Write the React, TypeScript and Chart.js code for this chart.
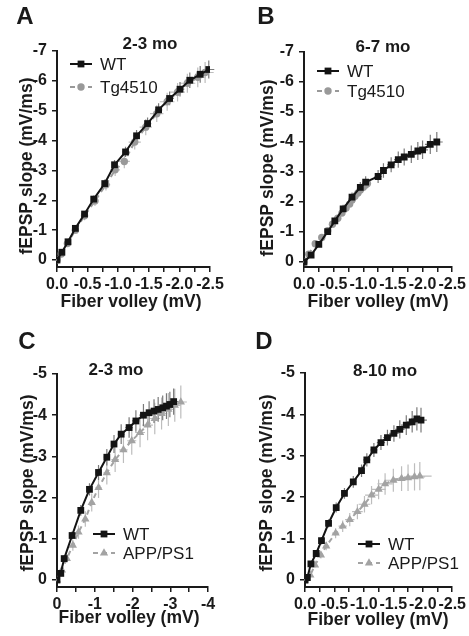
import React, { useEffect, useRef } from "react";
import { Chart, registerables } from "chart.js";
Chart.register(...registerables);

const FONT = "'Liberation Sans', Arial, Helvetica, sans-serif";

// ---------- Panel A (2-3 mo, WT vs Tg4510) ----------
const aWtX = [0, -0.08, -0.18, -0.30, -0.45, -0.60, -0.78, -0.94, -1.12, -1.30, -1.48, -1.66, -1.84, -2.01, -2.17, -2.34, -2.48];
const aWtY = [0, -0.26, -0.61, -1.06, -1.54, -2.04, -2.56, -3.19, -3.62, -4.16, -4.57, -5.03, -5.41, -5.72, -6.02, -6.22, -6.38];
const aWtEx = [0.01, 0.01, 0.02, 0.02, 0.03, 0.03, 0.04, 0.04, 0.05, 0.05, 0.06, 0.06, 0.07, 0.07, 0.08, 0.08, 0.09];
const aWtEy = [0.02, 0.04, 0.06, 0.08, 0.1, 0.12, 0.14, 0.16, 0.17, 0.19, 0.2, 0.22, 0.23, 0.24, 0.26, 0.28, 0.3];
const aTgX = [0, -0.07, -0.17, -0.30, -0.45, -0.62, -0.80, -0.95, -1.10, -1.27, -1.45, -1.63, -1.80, -1.97, -2.13, -2.30, -2.42];
const aTgY = [0, -0.20, -0.55, -1.00, -1.48, -1.98, -2.52, -3.02, -3.30, -3.95, -4.45, -4.90, -5.30, -5.62, -5.92, -6.12, -6.28];
const aTgEx = [0.01, 0.02, 0.03, 0.04, 0.05, 0.06, 0.07, 0.08, 0.09, 0.1, 0.1, 0.11, 0.12, 0.12, 0.13, 0.13, 0.14];
const aTgEy = [0.03, 0.06, 0.09, 0.12, 0.15, 0.17, 0.19, 0.21, 0.23, 0.25, 0.27, 0.28, 0.3, 0.31, 0.32, 0.33, 0.35];

// ---------- Panel B (6-7 mo, WT vs Tg4510) ----------
const bWtX = [0, -0.12, -0.25, -0.40, -0.52, -0.66, -0.81, -0.95, -1.04, -1.25, -1.34, -1.47, -1.59, -1.69, -1.81, -1.92, -2.0, -2.13, -2.24];
const bWtY = [0, -0.23, -0.59, -1.01, -1.37, -1.77, -2.16, -2.49, -2.66, -2.85, -3.05, -3.24, -3.41, -3.5, -3.59, -3.7, -3.74, -3.92, -4.0];
const bWtEx = [0.01, 0.02, 0.02, 0.03, 0.03, 0.04, 0.04, 0.05, 0.05, 0.06, 0.06, 0.07, 0.07, 0.08, 0.08, 0.08, 0.09, 0.09, 0.1];
const bWtEy = [0.02, 0.05, 0.07, 0.1, 0.12, 0.14, 0.16, 0.18, 0.2, 0.22, 0.24, 0.25, 0.27, 0.28, 0.29, 0.3, 0.31, 0.32, 0.33];
const bTgX = [0, -0.08, -0.19, -0.30, -0.40, -0.48, -0.57, -0.64, -0.71, -0.77, -0.81, -0.86, -0.91, -0.95, -1.0, -1.04, -1.07];
const bTgY = [0, -0.26, -0.61, -0.82, -1.04, -1.26, -1.46, -1.63, -1.8, -1.93, -2.07, -2.19, -2.3, -2.4, -2.49, -2.57, -2.62];
const bTgEx = [0.01, 0.01, 0.02, 0.02, 0.02, 0.03, 0.03, 0.03, 0.03, 0.04, 0.04, 0.04, 0.04, 0.05, 0.05, 0.05, 0.05];
const bTgEy = [0.02, 0.03, 0.04, 0.05, 0.06, 0.07, 0.08, 0.08, 0.09, 0.09, 0.1, 0.1, 0.11, 0.11, 0.12, 0.12, 0.12];

// ---------- Panel C (2-3 mo, WT vs APP/PS1) ----------
const cWtX = [0, -0.10, -0.19, -0.40, -0.63, -0.86, -1.10, -1.32, -1.51, -1.70, -1.91, -2.09, -2.29, -2.44, -2.57, -2.68, -2.80, -2.90, -2.99, -3.09];
const cWtY = [0, -0.16, -0.52, -1.08, -1.69, -2.20, -2.61, -2.98, -3.30, -3.54, -3.70, -3.86, -4.0, -4.06, -4.10, -4.14, -4.18, -4.22, -4.26, -4.33];
const cWtEx = [0.01, 0.02, 0.03, 0.04, 0.05, 0.06, 0.07, 0.08, 0.08, 0.09, 0.1, 0.1, 0.11, 0.11, 0.12, 0.12, 0.12, 0.13, 0.13, 0.13];
const cWtEy = [0.02, 0.05, 0.08, 0.1, 0.13, 0.15, 0.18, 0.2, 0.22, 0.24, 0.25, 0.26, 0.27, 0.28, 0.29, 0.3, 0.3, 0.31, 0.31, 0.32];
const cApX = [0, -0.13, -0.26, -0.42, -0.57, -0.75, -0.92, -1.10, -1.32, -1.54, -1.76, -1.98, -2.20, -2.40, -2.59, -2.77, -2.95, -3.12, -3.28];
const cApY = [0, -0.24, -0.52, -0.84, -1.16, -1.48, -1.88, -2.24, -2.60, -2.92, -3.16, -3.38, -3.58, -3.76, -3.92, -4.04, -4.14, -4.24, -4.32];
const cApEx = [0.01, 0.02, 0.03, 0.04, 0.05, 0.06, 0.07, 0.08, 0.09, 0.1, 0.11, 0.12, 0.13, 0.14, 0.14, 0.15, 0.15, 0.16, 0.16];
const cApEy = [0.03, 0.06, 0.1, 0.13, 0.16, 0.19, 0.22, 0.25, 0.28, 0.3, 0.32, 0.34, 0.36, 0.37, 0.38, 0.39, 0.4, 0.4, 0.4];

// ---------- Panel D (8-10 mo, WT vs APP/PS1) ----------
const dWtX = [0, -0.04, -0.10, -0.19, -0.28, -0.40, -0.53, -0.67, -0.82, -0.96, -1.05, -1.17, -1.29, -1.40, -1.51, -1.61, -1.72, -1.82, -1.90, -1.97];
const dWtY = [0, -0.06, -0.39, -0.64, -0.95, -1.37, -1.75, -2.09, -2.37, -2.64, -2.90, -3.14, -3.32, -3.44, -3.54, -3.64, -3.74, -3.82, -3.89, -3.86];
const dWtEx = [0.01, 0.01, 0.02, 0.02, 0.03, 0.03, 0.04, 0.04, 0.05, 0.05, 0.06, 0.06, 0.07, 0.07, 0.08, 0.08, 0.09, 0.09, 0.1, 0.1];
const dWtEy = [0.02, 0.03, 0.05, 0.07, 0.09, 0.1, 0.12, 0.13, 0.14, 0.15, 0.16, 0.17, 0.18, 0.19, 0.2, 0.22, 0.24, 0.26, 0.28, 0.3];
const dApX = [0, -0.09, -0.17, -0.27, -0.36, -0.52, -0.64, -0.76, -0.89, -1.01, -1.13, -1.25, -1.36, -1.50, -1.64, -1.75, -1.86, -1.95];
const dApY = [0, -0.12, -0.36, -0.60, -0.82, -1.13, -1.30, -1.46, -1.65, -1.83, -2.05, -2.19, -2.32, -2.41, -2.45, -2.47, -2.49, -2.51];
const dApEx = [0.01, 0.02, 0.03, 0.04, 0.05, 0.06, 0.07, 0.08, 0.09, 0.1, 0.11, 0.12, 0.13, 0.14, 0.15, 0.16, 0.18, 0.2];
const dApEy = [0.02, 0.04, 0.06, 0.08, 0.1, 0.12, 0.14, 0.16, 0.18, 0.2, 0.22, 0.24, 0.26, 0.28, 0.3, 0.32, 0.33, 0.34];

const yAxisTitle = "fEPSP slope (mV/ms)";
const xAxisTitle = "Fiber volley (mV)";

type Kind = "wt" | "tg" | "app";
interface Series { label: string; kind: Kind; x: number[]; y: number[]; ex: number[]; ey: number[] }
interface Panel {
  letter: string; title: string;
  box: [number, number, number, number];
  area: { l: number; r: number; t: number; b: number; y0: number };
  xMin: number; xStep: number; xLabelEvery: number; xDecimals: number;
  yMin: number;
  series: Series[];
  legend: [number, number, number];
  titleAt: [number, number]; letterAt: [number, number];
  yTitleAt: [number, number]; xTitleAt: [number, number];
}

const STYLE: Record<Kind, { color: string; marker: string; radius: number; dash: number[]; err: string }> = {
  wt: { color: "#141414", marker: "rect", radius: 4.8, dash: [], err: "#7a7a7a" },
  tg: { color: "#999999", marker: "circle", radius: 3.7, dash: [5, 4], err: "#bdbdbd" },
  app: { color: "#a3a3a3", marker: "triangle", radius: 4.8, dash: [5, 4], err: "#bdbdbd" },
};

const panels: Panel[] = [
  {
    letter: "A", title: "2-3 mo", box: [0, 0, 234, 318],
    area: { l: 57, r: 210, t: 51, b: 267, y0: 260 },
    xMin: -2.5, xStep: 0.25, xLabelEvery: 2, xDecimals: 1, yMin: -7,
    series: [
      { label: "WT", kind: "wt", x: aWtX, y: aWtY, ex: aWtEx, ey: aWtEy },
      { label: "Tg4510", kind: "tg", x: aTgX, y: aTgY, ex: aTgEx, ey: aTgEy },
    ],
    legend: [70, 64, 23], titleAt: [150, 44], letterAt: [25, 17], yTitleAt: [27, 166], xTitleAt: [131, 302],
  },
  {
    letter: "B", title: "6-7 mo", box: [234, 0, 235, 318],
    area: { l: 70, r: 223, t: 52, b: 267, y0: 262 },
    xMin: -2.5, xStep: 0.25, xLabelEvery: 2, xDecimals: 1, yMin: -7,
    series: [
      { label: "WT", kind: "wt", x: bWtX, y: bWtY, ex: bWtEx, ey: bWtEy },
      { label: "Tg4510", kind: "tg", x: bTgX, y: bTgY, ex: bTgEx, ey: bTgEy },
    ],
    legend: [83, 71, 20], titleAt: [149, 47], letterAt: [32, 17], yTitleAt: [34, 168], xTitleAt: [144, 302],
  },
  {
    letter: "C", title: "2-3 mo", box: [0, 318, 234, 318],
    area: { l: 57, r: 208, t: 56, b: 269, y0: 262 },
    xMin: -4, xStep: 0.5, xLabelEvery: 2, xDecimals: 0, yMin: -5,
    series: [
      { label: "WT", kind: "wt", x: cWtX, y: cWtY, ex: cWtEx, ey: cWtEy },
      { label: "APP/PS1", kind: "app", x: cApX, y: cApY, ex: cApEx, ey: cApEy },
    ],
    legend: [93, 216, 19], titleAt: [116, 52], letterAt: [27, 24], yTitleAt: [28, 165], xTitleAt: [129, 300],
  },
  {
    letter: "D", title: "8-10 mo", box: [234, 318, 235, 318],
    area: { l: 71, r: 223, t: 55, b: 269, y0: 262 },
    xMin: -2.5, xStep: 0.25, xLabelEvery: 2, xDecimals: 1, yMin: -5,
    series: [
      { label: "WT", kind: "wt", x: dWtX, y: dWtY, ex: dWtEx, ey: dWtEy },
      { label: "APP/PS1", kind: "app", x: dApX, y: dApY, ex: dApEx, ey: dApEy },
    ],
    legend: [124, 226, 19], titleAt: [151, 53], letterAt: [30, 24], yTitleAt: [33, 165], xTitleAt: [144, 302],
  },
];

function drawMarker(ctx: CanvasRenderingContext2D, kind: Kind, x: number, y: number) {
  const s = STYLE[kind];
  ctx.save();
  ctx.fillStyle = s.color;
  ctx.beginPath();
  if (s.marker === "rect") {
    const h = s.radius * Math.SQRT1_2;
    ctx.rect(x - h, y - h, 2 * h, 2 * h);
  } else if (s.marker === "circle") {
    ctx.arc(x, y, s.radius, 0, Math.PI * 2);
  } else {
    const r = s.radius;
    ctx.moveTo(x, y - r);
    ctx.lineTo(x + r * 0.866, y + r * 0.5);
    ctx.lineTo(x - r * 0.866, y + r * 0.5);
    ctx.closePath();
  }
  ctx.fill();
  ctx.restore();
}

function PanelChart({ p }: { p: Panel }) {
  const ref = useRef<HTMLCanvasElement | null>(null);
  useEffect(() => {
    const canvas = ref.current;
    if (!canvas) return;
    const [, , W, H] = p.box;
    const { l, r, t, b, y0 } = p.area;
    const yMax = ((b - y0) * -p.yMin) / (y0 - t);
    const yTicks: number[] = [];
    for (let v = p.yMin; v <= 0; v++) yTicks.push(v);
    const xTicks: number[] = [];
    const nx = Math.round(-p.xMin / p.xStep);
    for (let i = 0; i <= nx; i++) xTicks.push(-i * p.xStep);

    const decor = {
      id: "decor",
      beforeDatasetsDraw(chart: any) {
        const ctx = chart.ctx as CanvasRenderingContext2D;
        const xs = chart.scales.x, ys = chart.scales.y;
        ctx.save();
        [...p.series].reverse().forEach((s) => {
          ctx.strokeStyle = STYLE[s.kind].err;
          ctx.lineWidth = 1.2;
          s.x.forEach((xv, i) => {
            const px = xs.getPixelForValue(xv), py = ys.getPixelForValue(s.y[i]);
            const x1 = xs.getPixelForValue(xv - s.ex[i]), x2 = xs.getPixelForValue(xv + s.ex[i]);
            const y1 = ys.getPixelForValue(s.y[i] - s.ey[i]), y2 = ys.getPixelForValue(s.y[i] + s.ey[i]);
            ctx.beginPath();
            ctx.moveTo(x1, py); ctx.lineTo(x2, py);
            ctx.moveTo(px, y1); ctx.lineTo(px, y2);
            ctx.stroke();
          });
        });
        ctx.restore();
      },
      afterDraw(chart: any) {
        const ctx = chart.ctx as CanvasRenderingContext2D;
        ctx.save();
        ctx.fillStyle = "#1a1a1a";
        ctx.textBaseline = "middle";
        ctx.textAlign = "center";
        ctx.font = `bold 24px ${FONT}`;
        ctx.fillText(p.letter, p.letterAt[0], p.letterAt[1]);
        ctx.font = `bold 17px ${FONT}`;
        ctx.fillText(p.title, p.titleAt[0], p.titleAt[1]);
        ctx.font = `bold 17.5px ${FONT}`;
        ctx.fillText(xAxisTitle, p.xTitleAt[0], p.xTitleAt[1]);
        ctx.save();
        ctx.translate(p.yTitleAt[0], p.yTitleAt[1]);
        ctx.rotate(-Math.PI / 2);
        ctx.fillText(yAxisTitle, 0, 0);
        ctx.restore();
        // legend
        const [lx, ly, gap] = p.legend;
        p.series.forEach((s, i) => {
          const st = STYLE[s.kind];
          const y = ly + i * gap;
          ctx.save();
          ctx.strokeStyle = st.color;
          ctx.lineWidth = 2;
          ctx.setLineDash(st.dash);
          ctx.beginPath();
          ctx.moveTo(lx, y); ctx.lineTo(lx + 22, y);
          ctx.stroke();
          ctx.restore();
          drawMarker(ctx, s.kind, lx + 11, y);
          ctx.fillStyle = "#1a1a1a";
          ctx.textAlign = "left";
          ctx.font = `17px ${FONT}`;
          ctx.fillText(s.label, lx + 30, y + 1);
        });
        ctx.restore();
      },
    };

    const chart = new Chart(canvas, {
      type: "scatter",
      data: {
        datasets: p.series.map((s) => {
          const st = STYLE[s.kind];
          return {
            label: s.label,
            data: s.x.map((xv, i) => ({ x: xv, y: s.y[i] })),
            showLine: true,
            borderColor: st.color,
            backgroundColor: st.color,
            borderWidth: 2,
            borderDash: st.dash,
            pointStyle: st.marker as any,
            pointRadius: st.radius,
            pointBorderWidth: 0,
            pointBackgroundColor: st.color,
            tension: 0,
          };
        }),
      },
      options: {
        animation: false,
        responsive: false,
        devicePixelRatio: 1,
        layout: { padding: { top: t, right: W - r, bottom: 0, left: 0 } },
        plugins: { legend: { display: false }, tooltip: { enabled: false }, title: { display: false } },
        scales: {
          x: {
            type: "linear",
            reverse: true,
            min: p.xMin,
            max: 0,
            afterFit: (sc: any) => { sc.height = H - b; },
            afterBuildTicks: (sc: any) => { sc.ticks = xTicks.map((v) => ({ value: v })); },
            grid: { drawOnChartArea: false, drawTicks: true, tickLength: 5, color: "#1a1a1a", lineWidth: 1.5 },
            border: { display: true, color: "#1a1a1a", width: 2 },
            ticks: {
              autoSkip: false,
              maxRotation: 0,
              padding: 3,
              color: "#1a1a1a",
              font: { family: FONT, size: 16, weight: "bold" },
              callback: (v: any, i: number) => (i % p.xLabelEvery === 0 ? (Math.abs(v) < 1e-9 ? (0).toFixed(p.xDecimals) : Number(v).toFixed(p.xDecimals)) : ""),
            },
          },
          y: {
            type: "linear",
            reverse: true,
            min: p.yMin,
            max: yMax,
            afterFit: (sc: any) => { sc.width = l; },
            afterBuildTicks: (sc: any) => { sc.ticks = yTicks.map((v) => ({ value: v })); },
            grid: { drawOnChartArea: false, drawTicks: true, tickLength: 5, color: "#1a1a1a", lineWidth: 1.5 },
            border: { display: true, color: "#1a1a1a", width: 2 },
            ticks: {
              padding: 5,
              color: "#1a1a1a",
              font: { family: FONT, size: 16, weight: "bold" },
              callback: (v: any) => (Math.abs(v) < 1e-9 ? "0" : String(v)),
            },
          },
        },
      },
      plugins: [decor],
    } as any);
    return () => chart.destroy();
  }, [p]);
  const [left, top, w, h] = p.box;
  return (
    <canvas
      ref={ref}
      width={w}
      height={h}
      style={{ position: "absolute", left, top, width: w, height: h }}
    />
  );
}

export default function App() {
  return (
    <div style={{ position: "absolute", left: 0, top: 0, width: 469, height: 636, background: "#fff" }}>
      {panels.map((p) => (
        <PanelChart key={p.letter} p={p} />
      ))}
    </div>
  );
}
